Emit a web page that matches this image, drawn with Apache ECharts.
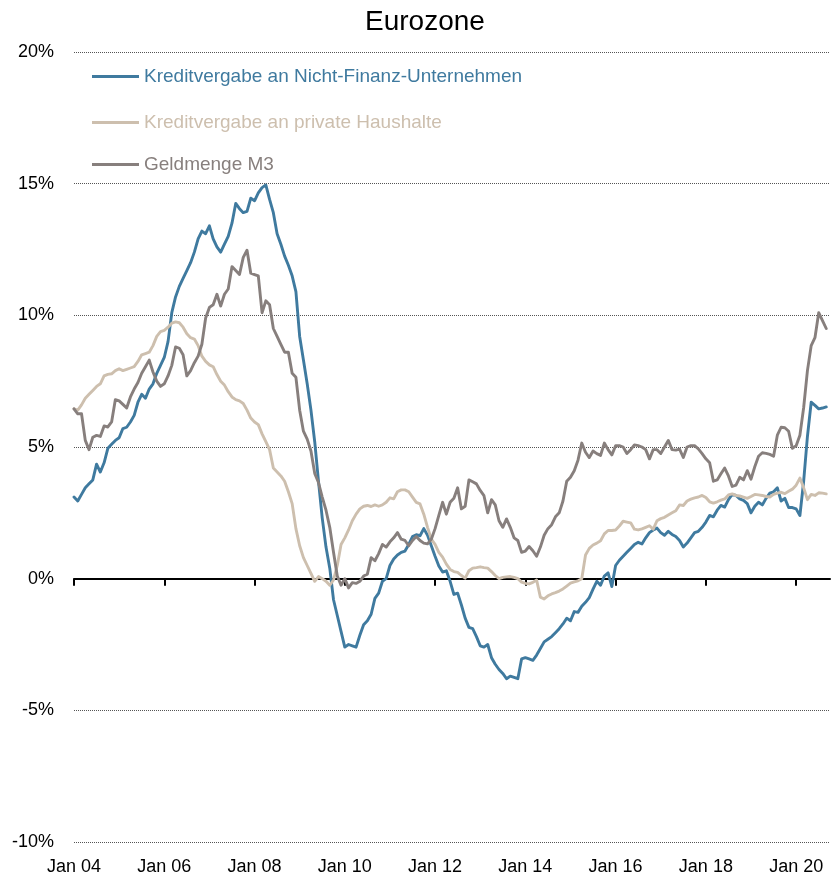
<!DOCTYPE html>
<html>
<head>
<meta charset="utf-8">
<title>Eurozone</title>
<script src="https://cdn.jsdelivr.net/npm/echarts@6/dist/echarts.min.js"></script>
<style>
  html, body { margin: 0; padding: 0; background: #ffffff; }
  #chart { width: 831px; height: 881px; }
</style>
</head>
<body>
<div id="chart"></div>
<script>
// Monthly year-on-year growth rates in %, starting January 2004
const tickLabels = ['Jan 04', 'Jan 06', 'Jan 08', 'Jan 10', 'Jan 12', 'Jan 14', 'Jan 16', 'Jan 18', 'Jan 20'];
const monthsPerTick = 24;

const seriesNames = [
  'Kreditvergabe an Nicht-Finanz-Unternehmen',
  'Kreditvergabe an private Haushalte',
  'Geldmenge M3'
];

const loansNfc = [
  3.1, 2.95, 3.2, 3.45, 3.6, 3.75, 4.35, 4.05, 4.4, 4.95,
  5.1, 5.25, 5.35, 5.7, 5.75, 5.95, 6.2, 6.7, 7.0, 6.85,
  7.2, 7.4, 7.8, 8.1, 8.4, 9.0, 10.1, 10.7, 11.1, 11.4,
  11.7, 12.0, 12.4, 12.9, 13.2, 13.1, 13.4, 12.9, 12.6, 12.4,
  12.7, 13.0, 13.5, 14.25, 14.05, 13.9, 13.95, 14.45, 14.35, 14.65,
  14.85, 14.95, 14.4, 13.9, 13.1, 12.7, 12.25, 11.9, 11.5, 10.9,
  9.2, 8.3, 7.4, 6.4, 5.2, 3.7, 2.3, 1.2, 0.4, -0.8,
  -1.4, -2.0, -2.6, -2.5, -2.55, -2.6, -2.15, -1.75, -1.6, -1.35,
  -0.75, -0.55, -0.1, 0.0, 0.5, 0.75, 0.9, 1.0, 1.05, 1.3,
  1.6, 1.67, 1.63, 1.9, 1.65, 1.25, 0.85, 0.48, 0.25, 0.3,
  -0.1, -0.6, -0.55, -1.0, -1.5, -1.85, -1.9, -2.2, -2.55, -2.6,
  -2.5, -3.0, -3.25, -3.45, -3.6, -3.8, -3.7, -3.75, -3.8, -3.05,
  -3.0, -3.05, -3.1, -2.9, -2.65, -2.4, -2.3, -2.2, -2.05, -1.9,
  -1.72, -1.5, -1.6, -1.25, -1.28, -1.05, -0.9, -0.72, -0.4, -0.1,
  -0.25, 0.1, 0.22, -0.3, 0.5, 0.7, 0.85, 1.0, 1.15, 1.3,
  1.38, 1.32, 1.55, 1.75, 1.85, 1.92, 1.75, 1.65, 1.8, 1.68,
  1.6, 1.45, 1.2, 1.35, 1.55, 1.75, 1.8, 1.95, 2.15, 2.4,
  2.35, 2.6, 2.78, 2.72, 3.0, 3.2, 3.16, 3.03, 2.97, 2.85,
  2.5, 2.75, 2.9, 2.8, 3.05, 3.25, 3.3, 3.45, 2.95, 3.05,
  2.7, 2.7, 2.65, 2.4, 3.7, 5.4, 6.7, 6.58, 6.45, 6.48,
  6.52
];

const loansHouseholds = [
  6.45, 6.4, 6.6, 6.85, 7.0, 7.15, 7.3, 7.4, 7.7, 7.76,
  7.78, 7.9, 7.97, 7.9, 7.95, 8.0, 8.05, 8.25, 8.5, 8.55,
  8.6, 8.85, 9.2, 9.38, 9.43, 9.55, 9.7, 9.75, 9.72, 9.55,
  9.3, 9.15, 9.1, 8.85, 8.45, 8.25, 8.12, 8.05, 7.75, 7.5,
  7.35, 7.1, 6.9, 6.8, 6.75, 6.65, 6.4, 6.1, 5.95, 5.85,
  5.5, 5.2, 4.9, 4.2, 4.05, 3.9, 3.7, 3.3, 2.85, 1.9,
  1.25, 0.8, 0.5, 0.2, -0.1, 0.08, 0.0, -0.1, -0.25, -0.05,
  0.5, 1.3, 1.55, 1.85, 2.2, 2.45, 2.65, 2.75, 2.78, 2.74,
  2.8, 2.75, 2.8, 2.9, 3.07, 3.03, 3.3, 3.37, 3.37, 3.3,
  3.1, 2.9, 2.84, 2.45, 1.95, 1.5, 1.3, 1.0, 0.82, 0.55,
  0.35, 0.27, 0.24, 0.12, 0.02, 0.3, 0.4, 0.42, 0.45, 0.42,
  0.4, 0.27, 0.12, 0.0, 0.05, 0.07, 0.08, 0.05, 0.0, -0.13,
  -0.18, -0.2, -0.14, -0.05, -0.7, -0.77, -0.65, -0.58, -0.53, -0.47,
  -0.39, -0.28, -0.17, -0.12, -0.08, 0.0, 0.9, 1.15, 1.28, 1.35,
  1.44, 1.7, 1.83, 1.83, 1.85, 2.0, 2.18, 2.15, 2.12, 1.88,
  1.85, 1.89, 1.95, 2.01, 1.88, 2.2, 2.28, 2.33, 2.42, 2.5,
  2.58, 2.8, 2.78, 2.95, 3.02, 3.07, 3.1, 3.16, 3.08, 2.92,
  2.87, 2.92, 2.98, 3.03, 3.18, 3.22, 3.16, 3.14, 3.1, 3.05,
  3.12, 3.2, 3.18, 3.16, 3.12, 3.1, 3.2, 3.25, 3.28, 3.23,
  3.32, 3.4, 3.55, 3.82, 3.45, 3.0, 3.2, 3.16, 3.26, 3.25,
  3.22
];

const moneyM3 = [
  6.45, 6.26, 6.26, 5.25, 4.9, 5.37, 5.44, 5.4, 5.8, 5.76,
  5.95, 6.8, 6.75, 6.62, 6.48, 6.9, 7.2, 7.45, 7.8, 8.05,
  8.3, 7.85, 7.5, 7.3, 7.4, 7.7, 8.1, 8.8, 8.75, 8.5,
  7.7, 7.9, 8.2, 8.45, 8.9, 9.9, 10.3, 10.4, 10.8, 10.35,
  10.8, 11.0, 11.85, 11.7, 11.55, 12.2, 12.47, 11.6, 11.55, 11.5,
  10.1, 10.55, 10.4, 9.5, 9.2, 8.9, 8.6, 8.6, 7.8, 7.65,
  6.4, 5.6, 5.3, 4.85, 4.0, 3.65, 3.1, 2.6, 1.95, 1.0,
  0.1, -0.25, 0.0, -0.35, -0.15, -0.18, -0.1, 0.1, 0.17, 0.8,
  0.68, 0.95, 1.3, 1.2, 1.4, 1.55, 1.75, 1.5, 1.45, 1.25,
  1.45, 1.6, 1.45, 1.35, 1.32, 1.5, 1.9, 2.4, 2.9, 2.45,
  2.9, 3.05, 3.45, 2.65, 2.75, 3.75, 3.68, 3.6, 3.35, 3.15,
  2.5, 3.0, 2.8, 2.2, 1.95, 2.27, 1.95, 1.55, 1.45, 1.0,
  1.05, 1.22, 1.06, 0.85, 1.2, 1.65, 1.9, 2.05, 2.35, 2.5,
  2.95, 3.7, 3.85, 4.1, 4.5, 5.15, 4.8, 4.6, 4.85, 4.75,
  4.68, 5.15, 4.9, 4.7, 5.05, 5.05, 5.0, 4.75, 4.9, 5.08,
  5.05, 5.0, 4.9, 4.55, 4.9, 4.9, 4.75, 5.0, 5.25, 4.9,
  4.88, 4.92, 4.6, 5.0, 5.05, 5.05, 4.93, 4.75, 4.55, 4.4,
  3.7, 3.75, 3.98, 4.2, 3.9, 3.5, 3.55, 3.85, 3.75, 4.1,
  3.78, 4.25, 4.65, 4.78, 4.76, 4.72, 4.65, 5.45, 5.75, 5.73,
  5.6, 4.95, 5.05, 5.45, 6.5, 7.9, 8.85, 9.15, 10.1, 9.8,
  9.5
];

const colors = ['#3f7a9f', '#cdbfae', '#877f7d'];
const fontFamily = '"Liberation Sans", Arial, sans-serif';

const tickValues = tickLabels.map((_, i) => i * monthsPerTick);
const toPoints = arr => arr.map((v, i) => [i, v]);
const valueSets = [loansNfc, loansHouseholds, moneyM3];

const legendTops = [67, 113, 155];

const chart = echarts.init(document.getElementById('chart'), null, { renderer: 'canvas' });

chart.setOption({
  animation: false,
  backgroundColor: '#ffffff',
  title: {
    text: 'Eurozone',
    left: 360,
    top: 3,
    textStyle: { fontFamily, fontSize: 28, fontWeight: 'normal', color: '#000000' }
  },
  legend: seriesNames.map((name, i) => ({
    data: [name],
    left: 92,
    top: legendTops[i],
    orient: 'vertical',
    padding: 0,
    icon: 'rect',
    itemWidth: 47,
    itemHeight: 3,
    selectedMode: false,
    textStyle: { fontFamily, fontSize: 19, color: colors[i] }
  })),
  grid: { left: 74, right: 1, top: 52, bottom: 39, outerBoundsMode: 'none' },
  xAxis: [
    {
      // zero line with year ticks pointing down
      type: 'value',
      position: 'top',
      min: 0,
      max: 201,
      axisLine: { onZero: true, lineStyle: { color: '#000000', width: 2 } },
      axisTick: {
        show: true,
        inside: true,
        length: 7,
        customValues: tickValues,
        lineStyle: { color: '#000000', width: 2 }
      },
      axisLabel: { show: false },
      splitLine: { show: false }
    },
    {
      // date labels along the bottom edge
      type: 'value',
      position: 'bottom',
      min: 0,
      max: 201,
      axisLine: { show: false, onZero: false },
      axisTick: { show: false },
      axisLabel: {
        customValues: tickValues,
        margin: 16,
        fontFamily,
        fontSize: 18,
        color: '#000000',
        formatter: v => tickLabels[Math.round(v / monthsPerTick)] || ''
      },
      splitLine: { show: false }
    }
  ],
  yAxis: {
    type: 'value',
    min: -10,
    max: 20,
    interval: 5,
    axisLine: { show: false },
    axisTick: { show: false },
    axisLabel: {
      margin: 20,
      fontFamily,
      fontSize: 18,
      color: '#000000',
      formatter: v => v + '%'
    },
    splitLine: { lineStyle: { color: '#555555', width: 1, type: [1, 1] } }
  },
  series: seriesNames.map((name, i) => ({
    name,
    type: 'line',
    xAxisIndex: 0,
    data: toPoints(valueSets[i]),
    showSymbol: false,
    symbol: 'none',
    smooth: false,
    lineStyle: { color: colors[i], width: 2.9, cap: 'round', join: 'round' },
    itemStyle: { color: colors[i] },
    z: 2 + i
  }))
});
</script>
</body>
</html>
